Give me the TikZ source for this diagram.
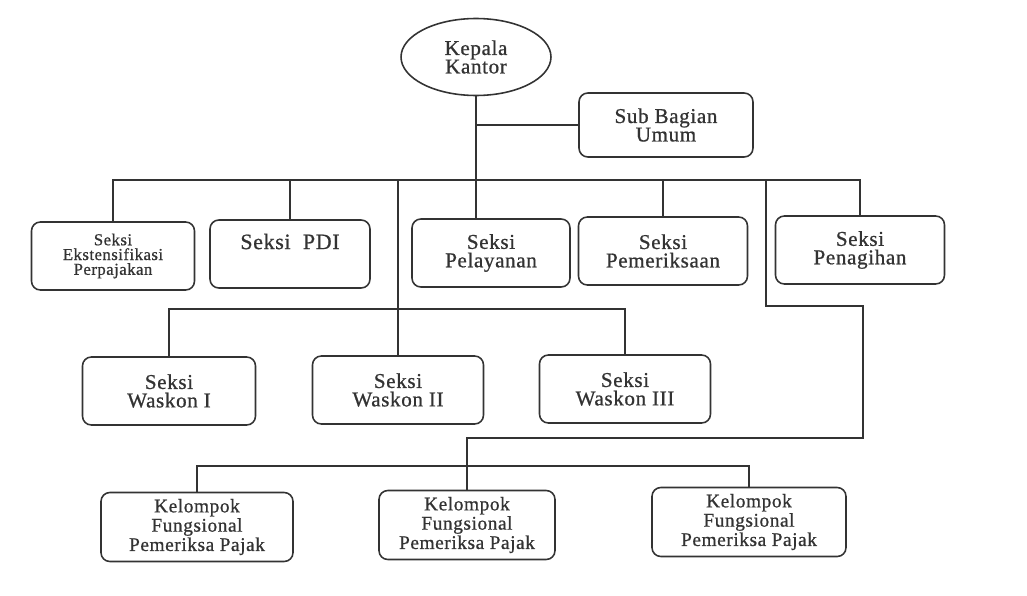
\documentclass[tikz,border=0pt]{standalone}
\usepackage{fontspec}
\setmainfont[LetterSpace=3, FakeBold=0.8]{Liberation Serif}
\usepackage{xcolor}
\definecolor{ink}{HTML}{333333}
\usetikzlibrary{shapes.geometric}
\tikzset{
    unit/.style ={rectangle, rounded corners=5pt, draw, align=center, minimum height=1.36cm, inner sep=2pt},
    head/.style ={ellipse, draw, align=center, minimum width=3cm, minimum height=1.54cm, inner sep=1pt},
    small/.style = {font=\fontsize{9.5}{8.4}\selectfont},
    fungsional/.style = {unit, font=\fontsize{11}{9}\selectfont, minimum height=1.38cm}
}

\begin{document}
\begin{tikzpicture}[x=0.02cm, y=-0.02cm, color=ink, line width=0.9pt, font=\fontsize{12}{10.5}\selectfont]
      \useasboundingbox (0,0) rectangle (1027,595);
      \node[head] (kepala) at (476,57) {Kepala\\Kantor};
      \node[unit, minimum width=3.48cm, minimum height=1.28cm] (umum) at (666,125) {Sub Bagian\\Umum};

      \node[unit, small, minimum width=3.26cm] (ekstensifikasi) at (113,256) {Seksi\\Ekstensifikasi\\Perpajakan};
      \node[unit, minimum width=3.2cm, font=\fontsize{12.5}{11}\selectfont] (pdi) at (290,254) {Seksi~~PDI\\\strut};
      \node[unit, minimum width=3.16cm] (pelayanan) at (491,253) {Seksi\\Pelayanan};
      \node[unit, minimum width=3.38cm] (pemeriksaan) at (663,251) {Seksi\\Pemeriksaan};
      \node[unit, minimum width=3.38cm] (penagihan) at (860,250) {Seksi\\Penagihan};

      \node[unit, minimum width=3.46cm] (waskonI) at (169,391) {Seksi\\Waskon I};
      \node[unit, minimum width=3.42cm] (waskonII) at (398,390) {Seksi\\Waskon II};
      \node[unit, minimum width=3.42cm] (waskonIII) at (625,389) {Seksi\\Waskon III};

      \node[fungsional, minimum width=3.84cm] (fungsionalA) at (197,527) {Kelompok\\Fungsional\\Pemeriksa Pajak};
      \node[fungsional, minimum width=3.52cm] (fungsionalB) at (467,525) {Kelompok\\Fungsional\\Pemeriksa Pajak};
      \node[fungsional, minimum width=3.88cm] (fungsionalC) at (749,522) {Kelompok\\Fungsional\\Pemeriksa Pajak};

      \coordinate (bar) at (0,180);
      \coordinate (waskonbar) at (0,309);
      \coordinate (fungsionalbar) at (0,466);
      \coordinate (jogL) at (766,306);
      \coordinate (jogR) at (863,438);

      \draw (kepala) -- (kepala |- pelayanan.north);
      \draw (kepala |- umum) -- (umum);
      \draw (ekstensifikasi) |- (bar -| penagihan) -- (penagihan);
      \foreach \n in {pdi, pemeriksaan}
        \draw (\n |- bar) -- (\n);
      \draw (waskonII |- bar) -- (waskonII);
      \draw (waskonI) |- (waskonbar -| waskonIII) -- (waskonIII);
      \draw (jogL |- bar) -- (jogL) -| (jogR) -| (fungsionalB);
      \draw (fungsionalA) |- (fungsionalbar -| fungsionalC) -- (fungsionalC);
\end{tikzpicture}
\end{document}
